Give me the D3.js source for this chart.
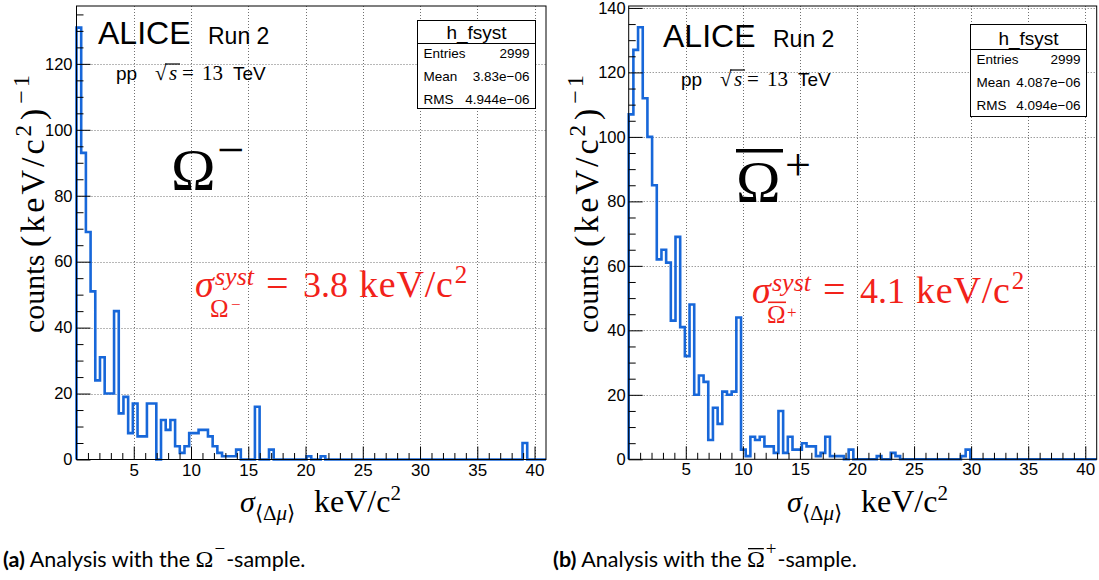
<!DOCTYPE html>
<html><head><meta charset="utf-8">
<script src="https://cdn.jsdelivr.net/npm/d3@7"></script>
<style>
html,body{margin:0;padding:0;background:#fff;}
svg{display:block;}
</style></head><body>
<svg id="chart" width="1099" height="580"></svg>
<script>
// ---------------- data ----------------
const binLow = 0, binHigh = 41;            // 100 bins, 0.41 keV/c^2 wide
const countsOmegaMinus = [
 131, 93, 69, 51, 24, 31, 20, 20, 45, 14,
  19,  8, 17,  7,  7, 17, 17,  0, 12,  9,
  12,  4,  2,  4,  8,  8,  9,  9,  7,  4,
   2,  1,  1,  1,  3,  0,  0,  0, 16,  0,
   0,  3,  0,  0,  0,  0,  0,  0,  0,  1,
   0,  0,  1,  0,  0,  0,  0,  0,  0,  0,
   0,  0,  0,  0,  0,  0,  0,  0,  0,  0,
   0,  0,  0,  0,  0,  0,  0,  0,  0,  0,
   0,  0,  0,  0,  0,  0,  0,  0,  0,  0,
   0,  0,  0,  0,  0,  5,  0,  0,  0,  0];
const countsOmegaPlusBar = [
 107,127,134,112,100, 85, 62, 65, 61, 43,
  69, 41, 32, 48, 20, 26, 24,  6, 16, 11,
  21, 20, 21, 44,  3,  1,  7,  6,  7,  4,
   4,  2, 15,  2,  7,  3,  3,  5,  4,  4,
   1,  2,  7,  1,  1,  1,  0,  3,  0,  0,
   0,  0,  0,  1,  0,  0,  2,  1,  0,  0,
   0,  0,  0,  0,  0,  0,  0,  0,  0,  0,
   0,  1,  3,  0,  0,  0,  0,  0,  0,  0,
   0,  0,  0,  0,  0,  0,  0,  0,  0,  0,
   0,  0,  0,  0,  0,  0,  0,  0,  0,  0];
const xMajorTicks = [5, 10, 15, 20, 25, 30, 35, 40];
const xMinorTicks = [1,2,3,4,6,7,8,9,11,12,13,14,16,17,18,19,21,22,23,24,26,27,28,29,31,32,33,34,36,37,38,39];
const yTicksA = [0, 20, 40, 60, 80, 100, 120];
const yTicksB = [0, 20, 40, 60, 80, 100, 120, 140];
const yMinorA = [5,10,15,25,30,35,45,50,55,65,70,75,85,90,95,105,110,115,125,130,135];
const yMinorB = [5,10,15,25,30,35,45,50,55,65,70,75,85,90,95,105,110,115,125,130,135];
const statsTitle = "h_fsyst";
const statsA = [["Entries", "2999"], ["Mean", "3.83e\u221206"], ["RMS", "4.944e\u221206"]];
const statsB = [["Entries", "2999"], ["Mean", "4.087e\u221206"], ["RMS", "4.094e\u221206"]];
const sigmaSystA = "3.8", sigmaSystB = "4.1";

// ---------------- drawing ----------------
const SANS = "'Liberation Sans', Arial, Helvetica, sans-serif";
const SERIF = "'Liberation Serif', 'Times New Roman', serif";
const CAP = "Lato, 'Open Sans', sans-serif";
const RED = "#f2221a";
const BLUE = "#1767d9";
const svg = d3.select("#chart");

function txt(parent, x, y, s, opt) {
  const t = parent.append("text").attr("x", x).attr("y", y).text(s)
    .attr("font-family", opt.f || SANS).attr("font-size", opt.s || 16)
    .attr("fill", opt.c || "#000");
  if (opt.i) t.attr("font-style", "italic");
  if (opt.a) t.attr("text-anchor", opt.a);
  if (opt.w) t.attr("font-weight", opt.w);
  if (opt.ls) t.attr("letter-spacing", opt.ls);
  return t;
}

function panel(cfg) {
  const g = svg.append("g");
  const x = d3.scaleLinear().domain([binLow, binHigh]).range([cfg.left, cfg.right]);
  const y = d3.scaleLinear().domain([0, cfg.ymax]).range([cfg.bottom, cfg.top]);

  // grid
  const grid = g.append("g").attr("stroke", "#707070").attr("stroke-width", 1)
    .attr("stroke-dasharray", "1,2");
  grid.selectAll(".gx").data(xMajorTicks).join("line")
    .attr("x1", d => Math.round(x(d)) + 0.5).attr("x2", d => Math.round(x(d)) + 0.5)
    .attr("y1", cfg.top).attr("y2", cfg.bottom);
  grid.selectAll(".gy").data(cfg.yTicks.filter(d => d > 0)).join("line")
    .attr("y1", d => Math.round(y(d)) + 0.5).attr("y2", d => Math.round(y(d)) + 0.5)
    .attr("x1", cfg.left).attr("x2", cfg.right);

  // histogram outline
  const w = (binHigh - binLow) / cfg.counts.length;
  const pts = [[binLow, 0]];
  cfg.counts.forEach((c, i) => { pts.push([binLow + i * w, c], [binLow + (i + 1) * w, c]); });
  pts.push([binHigh, 0]);
  g.append("path").attr("d", d3.line().x(p => x(p[0])).y(p => y(p[1]))(pts))
    .attr("fill", "none").attr("stroke", BLUE).attr("stroke-width", 2.6)
    .attr("stroke-linejoin", "miter");

  // axes
  const styleAxis = (sel, size) => {
    sel.select(".domain").remove();
    sel.selectAll("line").attr("stroke", "#000").attr("stroke-width", 1);
    sel.selectAll("text").attr("font-family", SANS).attr("font-size", size).attr("fill", "#000");
  };
  g.append("g").attr("transform", `translate(0,${cfg.bottom})`)
    .call(d3.axisBottom(x).tickValues(xMajorTicks).tickSizeInner(-13).tickSizeOuter(0).tickPadding(4))
    .call(s => styleAxis(s, 17));
  g.append("g").attr("transform", `translate(0,${cfg.bottom})`)
    .call(d3.axisBottom(x).tickValues(xMinorTicks).tickSizeInner(-6.5).tickSizeOuter(0).tickFormat(""))
    .call(s => styleAxis(s, 17));
  g.append("g").attr("transform", `translate(${cfg.left},0)`)
    .call(d3.axisLeft(y).tickValues(cfg.yTicks).tickSizeInner(-14).tickSizeOuter(0).tickPadding(cfg.yPad))
    .call(s => styleAxis(s, 16.5));
  g.append("g").attr("transform", `translate(${cfg.left},0)`)
    .call(d3.axisLeft(y).tickValues(cfg.yMinor).tickSizeInner(-7).tickSizeOuter(0).tickFormat(""))
    .call(s => styleAxis(s, 16));

  // frame
  g.append("rect").attr("x", cfg.left).attr("y", cfg.top)
    .attr("width", cfg.right - cfg.left).attr("height", cfg.bottom - cfg.top)
    .attr("fill", "none").attr("stroke", "#000").attr("stroke-width", 1);

  // stats box
  const sb = cfg.stats;
  g.append("rect").attr("x", sb.x).attr("y", sb.y).attr("width", sb.w).attr("height", sb.h)
    .attr("fill", "#fff").attr("stroke", "#000").attr("stroke-width", 1);
  g.append("line").attr("x1", sb.x).attr("x2", sb.x + sb.w).attr("y1", sb.y + sb.th).attr("y2", sb.y + sb.th)
    .attr("stroke", "#000");
  txt(g, sb.x + sb.w / 2, sb.y + sb.th - 5, statsTitle, { s: 19, a: "middle" });
  sb.rows.forEach((r, i) => {
    txt(g, sb.x + 6, sb.y + sb.r0 + i * sb.rs, r[0], { s: 13.5 });
    txt(g, sb.x + sb.w - 6, sb.y + sb.r0 + i * sb.rs, r[1], { s: 13.5, a: "end" });
  });
  return { g, x, y };
}

// ----- Panel A -----
const A = panel({ left: 76.5, right: 546, top: 6, bottom: 459.5, ymax: 137.55,
  counts: countsOmegaMinus, yTicks: yTicksA, yMinor: yMinorA, yPad: 4,
  stats: { x: 417.5, y: 20.5, w: 118, h: 88, th: 23, r0: 37, rs: 23, rows: statsA } });
// ----- Panel B -----
const B = panel({ left: 628.7, right: 1096.7, top: 6, bottom: 459.3, ymax: 140.6,
  counts: countsOmegaPlusBar, yTicks: yTicksB, yMinor: yMinorB, yPad: 3,
  stats: { x: 970.5, y: 24.5, w: 116, h: 92, th: 25, r0: 39.5, rs: 23, rows: statsB } });

// ----- annotations -----
function header(dx, dy1, dy2) {
  txt(svg, 98 + dx, 44 + dy1, "ALICE", { s: 32 });
  txt(svg, 208 + dx, 43.5 + dy1, "Run 2", { s: 23 });
  txt(svg, 116 + dx, 80 + dy2, "pp", { s: 19 });
  txt(svg, 155 + dx, 80 + dy2, "\u221A", { f: SERIF, s: 21 });
  svg.append("line").attr("x1", 165 + dx).attr("x2", 180 + dx).attr("y1", 64 + dy2).attr("y2", 64 + dy2)
    .attr("stroke", "#000").attr("stroke-width", 1.2);
  txt(svg, 169 + dx, 80 + dy2, "s", { f: SERIF, s: 21, i: true });
  txt(svg, 182 + dx, 80 + dy2, "=", { f: SERIF, s: 21 });
  txt(svg, 202 + dx, 80 + dy2, "13", { f: SERIF, s: 21 });
  txt(svg, 233 + dx, 80 + dy2, "TeV", { s: 19 });
}
header(0, 0, 0);
header(565, 3, 6);

// Omega minus label
txt(svg, 171, 190, "\u03A9", { f: SERIF, s: 60 });
txt(svg, 217, 166, "\u2212", { f: SERIF, s: 48 });
// anti-Omega plus label
txt(svg, 736, 201.5, "\u03A9", { f: SERIF, s: 60 });
svg.append("rect").attr("x", 736).attr("y", 149).attr("width", 47).attr("height", 3.5).attr("fill", "#000");
txt(svg, 785, 180, "+", { f: SERIF, s: 46 });

// red formulas
function formula(x0, yb, val, bar) {
  txt(svg, x0, yb, "\u03C3", { f: SERIF, s: 38, i: true, c: RED });
  txt(svg, x0 + 20, yb - 12, "syst", { f: SERIF, s: 26, i: true, c: RED });
  txt(svg, x0 + 15, yb + 20, "\u03A9", { f: SERIF, s: 25, c: RED });
  if (bar) {
    svg.append("rect").attr("x", x0 + 16).attr("y", yb - 1.5).attr("width", 18).attr("height", 1.6).attr("fill", RED);
    txt(svg, x0 + 35, yb + 15, "+", { f: SERIF, s: 17, c: RED });
  } else {
    txt(svg, x0 + 36, yb + 13, "\u2212", { f: SERIF, s: 17, c: RED });
  }
  txt(svg, x0 + 71, yb, "=", { f: SERIF, s: 40, c: RED });
  txt(svg, x0 + 108, yb, val, { f: SERIF, s: 36, c: RED });
  const t = txt(svg, x0 + 164, yb, "keV/c", { f: SERIF, s: 38, c: RED, ls: 0.8 });
  t.append("tspan").attr("font-size", 25).attr("dy", -14).attr("dx", 1).text("2");
}
formula(195, 297, sigmaSystA, false);
formula(752, 303, sigmaSystB, true);

// axis titles
function xTitle(x0) {
  const yb = 512;
  txt(svg, x0, yb, "\u03C3", { f: SERIF, s: 30, i: true });
  const sub = svg.append("text").attr("x", x0 + 15).attr("y", yb + 8)
    .attr("font-family", SERIF).attr("font-size", 21);
  sub.append("tspan").text("\u27E8");
  sub.append("tspan").text("\u0394");
  sub.append("tspan").attr("font-style", "italic").text("\u03BC");
  sub.append("tspan").text("\u27E9");
  const t = txt(svg, x0 + 74, yb, "keV/c", { f: SERIF, s: 32 });
  t.append("tspan").attr("font-size", 21).attr("dy", -12).text("2");
}
xTitle(240);
xTitle(787);

function yTitle(xb, y0) {
  const g = svg.append("g").attr("transform", `translate(${xb},${y0}) rotate(-90)`);
  txt(g, 0, 0, "counts", { f: SERIF, s: 30 });
  const t = txt(g, 86, 0, "(keV/c", { f: SERIF, s: 34, ls: 3 });
  t.append("tspan").attr("font-size", 23).attr("dy", -13).text("2");
  t.append("tspan").attr("dy", 13).attr("dx", 2).text(")");
  t.append("tspan").attr("font-size", 24).attr("dy", -15).attr("dx", 2).text("\u22121");
}
yTitle(44, 333);
yTitle(598, 333);

// captions
function caption(x0, label, sign, bar) {
  const pre = label + " Analysis with the ";
  const t = svg.append("text").attr("x", x0).attr("y", 567).attr("font-family", CAP).attr("font-size", 21.5);
  t.append("tspan").attr("font-weight", "bold").text(label);
  t.append("tspan").text(" Analysis with the ");
  t.append("tspan").attr("font-family", SERIF).attr("font-size", 24).text("\u03A9");
  t.append("tspan").attr("font-family", SERIF).attr("font-size", 19).attr("dy", -12).attr("dx", 1).text(sign);
  t.append("tspan").attr("dy", 12).attr("dx", 1).text("-sample.");
  if (bar) {
    const ext = t.node().getExtentOfChar(pre.length);
    svg.append("rect").attr("x", ext.x + 1).attr("y", 548).attr("width", ext.width - 2).attr("height", 1.3).attr("fill", "#000");
  }
  return t;
}
caption(3, "(a)", "\u2212", false);
caption(553, "(b)", "+", true);
</script>
</body></html>
